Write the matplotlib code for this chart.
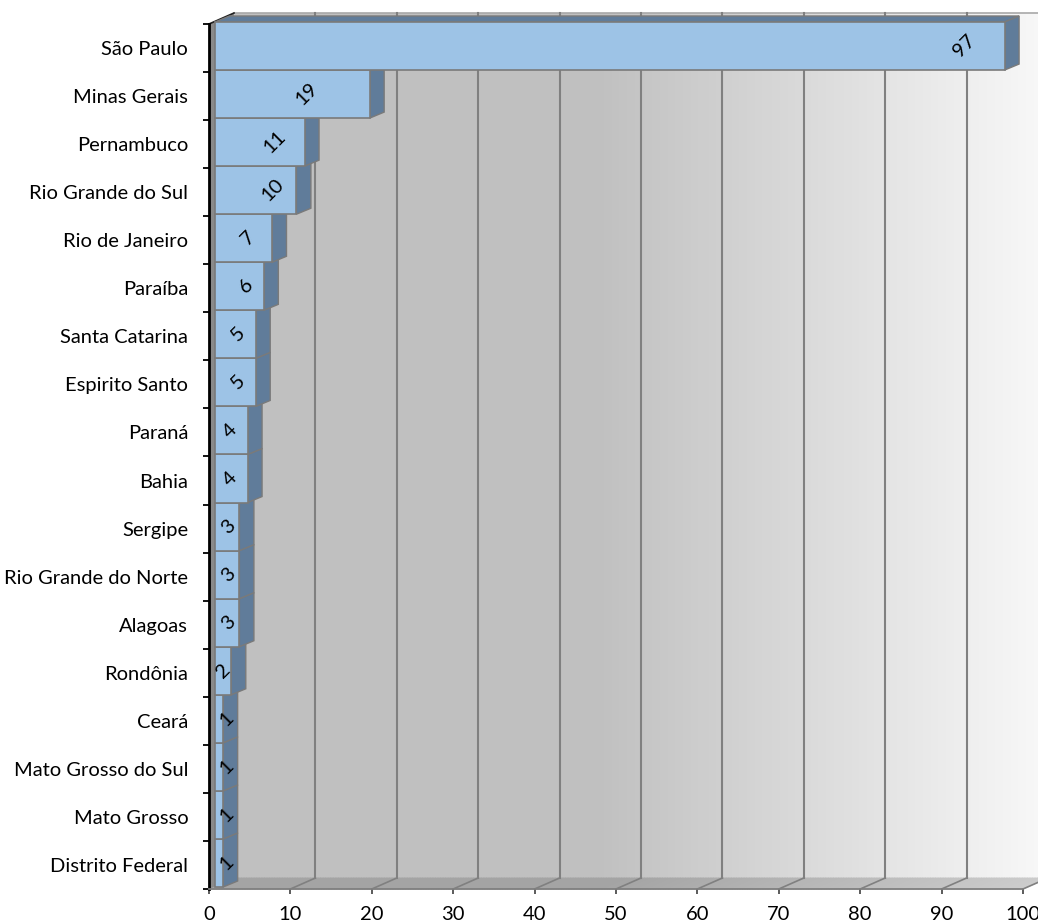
import matplotlib
matplotlib.use("Agg")
import matplotlib.pyplot as plt
import numpy as np
from matplotlib.patches import Polygon
from matplotlib.collections import PolyCollection
from matplotlib.ticker import FixedLocator, FixedFormatter, NullFormatter

# ---- data -------------------------------------------------------------
states = ["São Paulo", "Minas Gerais", "Pernambuco", "Rio Grande do Sul",
          "Rio de Janeiro", "Paraíba", "Santa Catarina", "Espirito Santo",
          "Paraná", "Bahia", "Sergipe", "Rio Grande do Norte", "Alagoas",
          "Rondônia", "Ceará", "Mato Grosso do Sul", "Mato Grosso",
          "Distrito Federal"]
counts = [97, 19, 11, 10, 7, 6, 5, 5, 4, 4, 3, 3, 3, 2, 1, 1, 1, 1]
x_ticks = list(range(0, 101, 10))

# horizontal nudge (pixels) of each value label from the bar's front end
label_nudge_px = [-40, -63, -30, -24, -24, -18, -18, -18, -18, -18,
                  -11, -11, -11, -8, 3, 3, 3, 3]

plt.rcParams["font.family"] = ["Lato", "DejaVu Sans"]

W, H = 1038, 924
fig = plt.figure(figsize=(W / 100, H / 100), dpi=100)
fig.patch.set_facecolor("white")

left_px, right_px, top_px, bottom_px = 209, 1023, 24, 889
ax = fig.add_axes([left_px / W, 1 - bottom_px / H,
                   (right_px - left_px) / W, (bottom_px - top_px) / H])
n = len(states)
ax.set_xlim(0, 100)
ax.set_ylim(n, 0)
ax.set_facecolor("none")

px_x = (right_px - left_px) / 100.0
px_y = (bottom_px - top_px) / n


def ux(p):
    return p / px_x


def uy(p):
    # screen pixels upward -> data units (y axis is inverted)
    return -p / px_y


# depth of the chart box and of the bars
WDX, WDY = ux(25), uy(11)
BX0, BY0 = ux(6), uy(2)
BDX, BDY = ux(14.5), uy(6)


def gray(v):
    v = min(max(v, 0), 255) / 255.0
    return (v, v, v)


# ---- back wall with horizontal gradient -------------------------------
edges = np.linspace(WDX, 100 + WDX, 320)
wall_polys, wall_cols = [], []
for x0, x1 in zip(edges[:-1], edges[1:]):
    p = left_px + 0.5 * (x0 + x1) * px_x
    g = 192 if p < 600 else 192 + (p - 600) * 0.1256
    wall_polys.append([(x0, WDY), (x1, WDY), (x1, n + WDY), (x0, n + WDY)])
    wall_cols.append(gray(g))
ax.add_collection(PolyCollection(wall_polys, facecolors=wall_cols,
                                 edgecolors=wall_cols, linewidths=0.6,
                                 clip_on=False, zorder=0))

# ---- floor -------------------------------------------------------------
fedges = np.linspace(0, 100, 320)
floor_polys, floor_cols = [], []
for x0, x1 in zip(fedges[:-1], fedges[1:]):
    p = left_px + 0.5 * (x0 + x1) * px_x
    g = 164 if p < 600 else 164 + (p - 600) * 0.095
    floor_polys.append([(x0, n), (x1, n), (x1 + WDX, n + WDY), (x0 + WDX, n + WDY)])
    floor_cols.append(gray(g))
ax.add_collection(PolyCollection(floor_polys, facecolors=floor_cols,
                                 edgecolors=floor_cols, linewidths=0.6,
                                 clip_on=False, zorder=0.2))

# ---- left side wall ---------------------------------------------------
ax.add_patch(Polygon([(0, 0), (WDX, WDY), (WDX, n + WDY), (0, n)],
                     closed=True, facecolor="#8a8a8a", edgecolor="none",
                     clip_on=False, zorder=0.4))

# box edges
ax.plot([WDX, 100 + WDX], [WDY, WDY], color="#a8a8a8", lw=1.2,
        clip_on=False, zorder=0.6)
ax.plot([0, WDX], [0, WDY], color="#202020", lw=1.2, clip_on=False, zorder=0.6)

# ---- gridlines on back wall and floor ---------------------------------
for v in x_ticks[1:]:
    ax.plot([v + WDX, v + WDX], [WDY, n + WDY], color="#808080", lw=1.5,
            clip_on=False, zorder=1)
    ax.plot([v, v + WDX], [n, n + WDY], color="#808080", lw=1.2,
            clip_on=False, zorder=1)

# ---- 3-D bars ----------------------------------------------------------
front_c = "#9DC3E6"
side_c = "#607C9A"
edge_c = "#7a7a7a"
for i in range(n - 1, -1, -1):
    v = counts[i]
    y0, y1 = i + BY0, i + 1 + BY0
    x0, x1 = BX0, v + BX0
    z = 2 + (n - i) * 0.01
    # top face
    ax.add_patch(Polygon([(x0, y0), (x1, y0), (x1 + BDX, y0 + BDY), (x0 + BDX, y0 + BDY)],
                         closed=True, facecolor=side_c, edgecolor=edge_c,
                         lw=1.0, clip_on=False, zorder=z))
    # right side face
    ax.add_patch(Polygon([(x1, y0), (x1 + BDX, y0 + BDY), (x1 + BDX, y1 + BDY), (x1, y1)],
                         closed=True, facecolor=side_c, edgecolor=edge_c,
                         lw=1.0, clip_on=False, zorder=z))
    # front face
    ax.add_patch(Polygon([(x0, y0), (x1, y0), (x1, y1), (x0, y1)],
                         closed=True, facecolor=front_c, edgecolor=edge_c,
                         lw=1.2, clip_on=False, zorder=z))

# ---- value labels -----------------------------------------------------
for i, v in enumerate(counts):
    ax.annotate(str(v), xy=(v + BX0, i + 0.5 + BY0),
                xytext=(label_nudge_px[i] * 0.72, 0), textcoords="offset points",
                ha="center", va="center", rotation=45, rotation_mode="anchor",
                fontsize=14.5, color="black", zorder=5, annotation_clip=False)

# ---- axes, ticks and labels -------------------------------------------
for s in ("top", "right"):
    ax.spines[s].set_visible(False)
ax.spines["left"].set_color("black")
ax.spines["left"].set_linewidth(2.0)
ax.spines["left"].set_zorder(6)
ax.spines["bottom"].set_color("#7f7f7f")
ax.spines["bottom"].set_linewidth(1.3)
ax.spines["bottom"].set_zorder(6)

ax.xaxis.set_major_locator(FixedLocator(x_ticks))
ax.xaxis.set_major_formatter(FixedFormatter([str(t) for t in x_ticks]))
ax.tick_params(axis="x", which="major", direction="out", length=3.6,
               width=1.2, color="#404040", labelsize=14.5, pad=9,
               labelcolor="black")

ax.yaxis.set_major_locator(FixedLocator(np.arange(0, n + 1)))
ax.yaxis.set_major_formatter(NullFormatter())
ax.yaxis.set_minor_locator(FixedLocator(np.arange(n) + 0.5))
ax.yaxis.set_minor_formatter(FixedFormatter(states))
ax.tick_params(axis="y", which="major", direction="out", length=4.3,
               width=1.3, color="black")
ax.tick_params(axis="y", which="minor", length=0, pad=15, labelsize=14.5,
               labelcolor="black")

fig.savefig("out.png", dpi=100)
